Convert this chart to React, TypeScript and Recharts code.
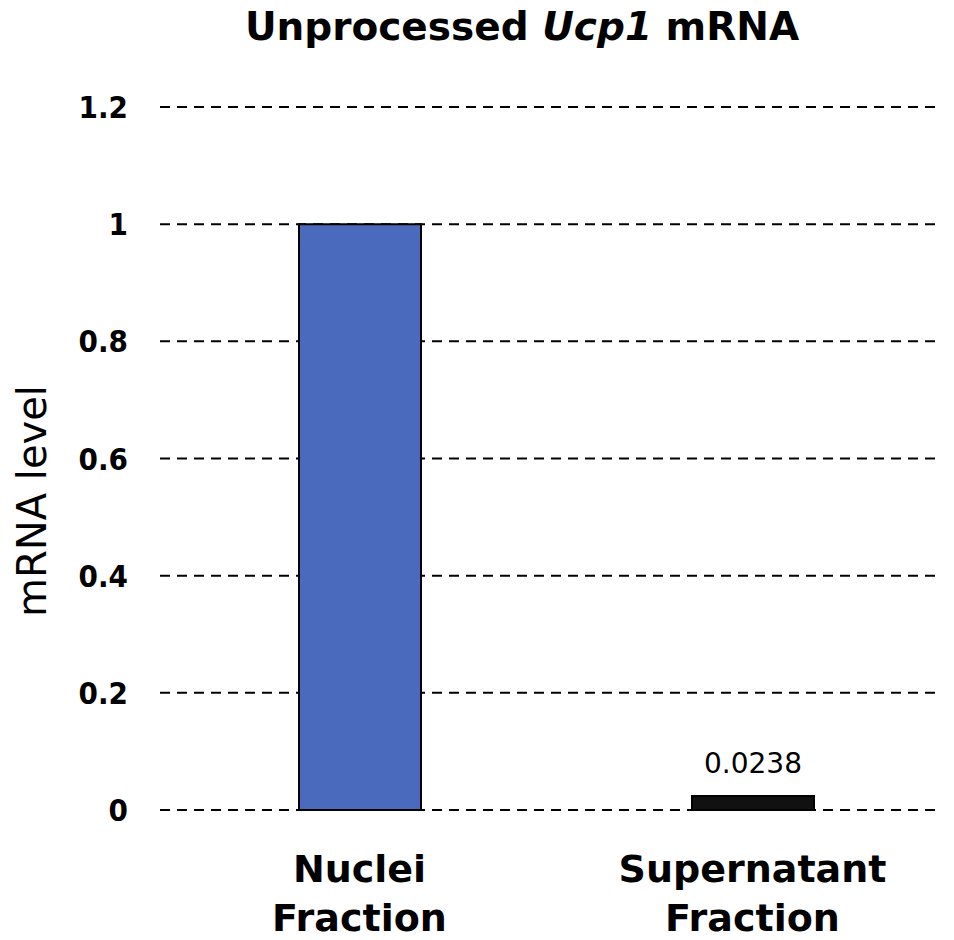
import React from 'react'
import {
  Bar,
  BarChart,
  CartesianGrid,
  Cell,
  Label,
  LabelList,
  XAxis,
  YAxis,
} from 'recharts'

const categories = ['Nuclei Fraction', 'Supernatant Fraction']
const mrnaLevels = [1, 0.0238]
const barLabels = ['', '0.0238']
const barColors = ['#4a6abd', '#111111']
const yTicks = [0, 0.2, 0.4, 0.6, 0.8, 1, 1.2]

const FONT = '"DejaVu Sans", sans-serif'
const TICK_FONT = '"DejaVu Sans Condensed", "DejaVu Sans", sans-serif'

const data = categories.map((name, i) => ({
  name,
  level: mrnaLevels[i],
  label: barLabels[i],
}))

// category names wrap onto two lines, one word each
function CategoryTick(props: any) {
  const { x, y, payload } = props
  const words = String(payload.value).split(' ')
  return (
    <text
      x={x}
      y={y}
      textAnchor="middle"
      fontFamily={FONT}
      fontWeight="bold"
      fontSize={38}
      fill="#000"
    >
      {words.map((w, i) => (
        <tspan key={w} x={x} dy={i === 0 ? 72 : 49}>
          {w}
        </tspan>
      ))}
    </text>
  )
}

export default function App() {
  return (
    <div style={{ position: 'relative', width: 946, height: 932, background: '#fff' }}>
      <div
        style={{
          position: 'absolute',
          left: 514,
          top: -4,
          transform: 'translateX(-50%)',
          whiteSpace: 'nowrap',
          fontFamily: FONT,
          fontWeight: 'bold',
          fontSize: 39,
          color: '#000',
        }}
      >
        Unprocessed <i>Ucp1</i> mRNA
      </div>
      <BarChart
        width={946}
        height={932}
        data={data}
        margin={{ top: 99, right: 14, bottom: 100, left: 92 }}
      >
        <CartesianGrid
          vertical={false}
          stroke="#000"
          strokeWidth={2}
          strokeDasharray="10 7"
        />
        <XAxis
          dataKey="name"
          height={30}
          axisLine={false}
          tickLine={false}
          tickSize={0}
          tickMargin={0}
          padding={{ left: 3, right: -9 }}
          interval={0}
          tick={<CategoryTick />}
        />
        <YAxis
          width={60}
          domain={[0, 1.2]}
          ticks={yTicks}
          axisLine={false}
          tickLine={false}
          tickSize={0}
          tickMargin={32}
          tick={{ fill: '#000', fontSize: 31, fontWeight: 'bold', fontFamily: TICK_FONT }}
        >
          <Label
            content={() => (
              <text
                x={38}
                y={493}
                transform="rotate(-90 38 493)"
                textAnchor="middle"
                fontFamily={FONT}
                fontSize={40}
                fill="#000"
              >
                mRNA level
              </text>
            )}
          />
        </YAxis>
        <Bar
          dataKey="level"
          barSize={122}
          stroke="#000"
          strokeWidth={2}
          isAnimationActive={false}
        >
          {data.map((d, i) => (
            <Cell key={d.name} fill={barColors[i]} />
          ))}
          <LabelList
            dataKey="label"
            position="top"
            offset={23}
            fill="#000"
            fontSize={28}
            fontFamily={FONT}
          />
        </Bar>
      </BarChart>
    </div>
  )
}
